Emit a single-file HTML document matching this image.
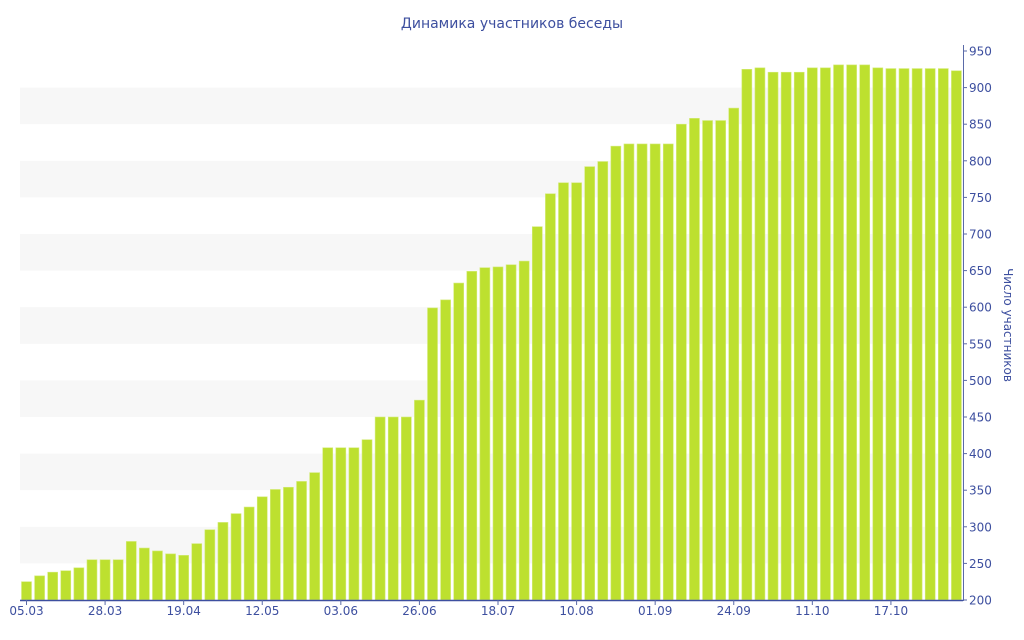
<!DOCTYPE html>
<html><head><meta charset="utf-8"><style>
html,body{margin:0;padding:0;background:#fff;}
svg{display:block;font-family:"DejaVu Sans","Liberation Sans",sans-serif;}
</style></head><body>
<svg id="c" width="1024" height="640" xmlns="http://www.w3.org/2000/svg">
<text x="512" y="28" text-anchor="middle" font-size="14" fill="#3d4f9f">Динамика участников беседы</text>
<g id="bands"></g>
<g id="bars"></g>
<line x1="20" y1="600.5" x2="963" y2="600.5" stroke="#3d4f9f" stroke-width="1.5"/>
<line x1="963.5" y1="45" x2="963.5" y2="601" stroke="#5a6aa8" stroke-width="1"/>
<g id="yax" font-size="12" fill="#3d4f9f"></g>
<g id="xax" font-size="12" fill="#3d4f9f"></g>
<text transform="translate(1004,325) rotate(90)" text-anchor="middle" font-size="12" fill="#3d4f9f">Число участников</text>
</svg>
<script>
var ns="http://www.w3.org/2000/svg";
function el(p,t,a,txt){var e=document.createElementNS(ns,t);for(var k in a)e.setAttribute(k,a[k]);if(txt!=null)e.textContent=txt;document.getElementById(p).appendChild(e);}
function Y(v){return 600-(v-200)*549/750;}
for(var v=250;v<900;v+=100){el("bands","rect",{x:20,y:Y(v+50),width:943,height:Y(v)-Y(v+50),fill:"#f7f7f7"});}
var d=[225,233,238,240,244,255,255,255,280,271,267,263,261,277,296,306,318,327,341,351,354,362,374,408,408,408,419,450,450,450,473,599,610,633,649,654,655,658,663,710,755,770,770,792,799,820,823,823,823,823,850,858,855,855,872,925,927,921,921,921,927,927,931,931,931,927,926,926,926,926,926,923];
var pw=943/72;
d.forEach(function(v,i){var x=21.5+i*pw;el("bars","rect",{x:x,y:Y(v),width:10,height:600-Y(v),fill:"#bde02f",stroke:"#d4eb7a","stroke-width":0.6});});
for(var v=200;v<=950;v+=50){var y=Y(v);el("yax","line",{x1:963,y1:y,x2:967,y2:y,stroke:"#5a6aa8"});el("yax","text",{x:969,y:y+4.5},v);}
var L=["05.03","28.03","19.04","12.05","03.06","26.06","18.07","10.08","01.09","24.09","11.10","17.10"];
L.forEach(function(t,k){var x=26.5+k*6*pw;el("xax","line",{x1:x,y1:600,x2:x,y2:605,stroke:"#5a6aa8"});el("xax","text",{x:x,y:615,"text-anchor":"middle"},t);});
</script>
</body></html>
